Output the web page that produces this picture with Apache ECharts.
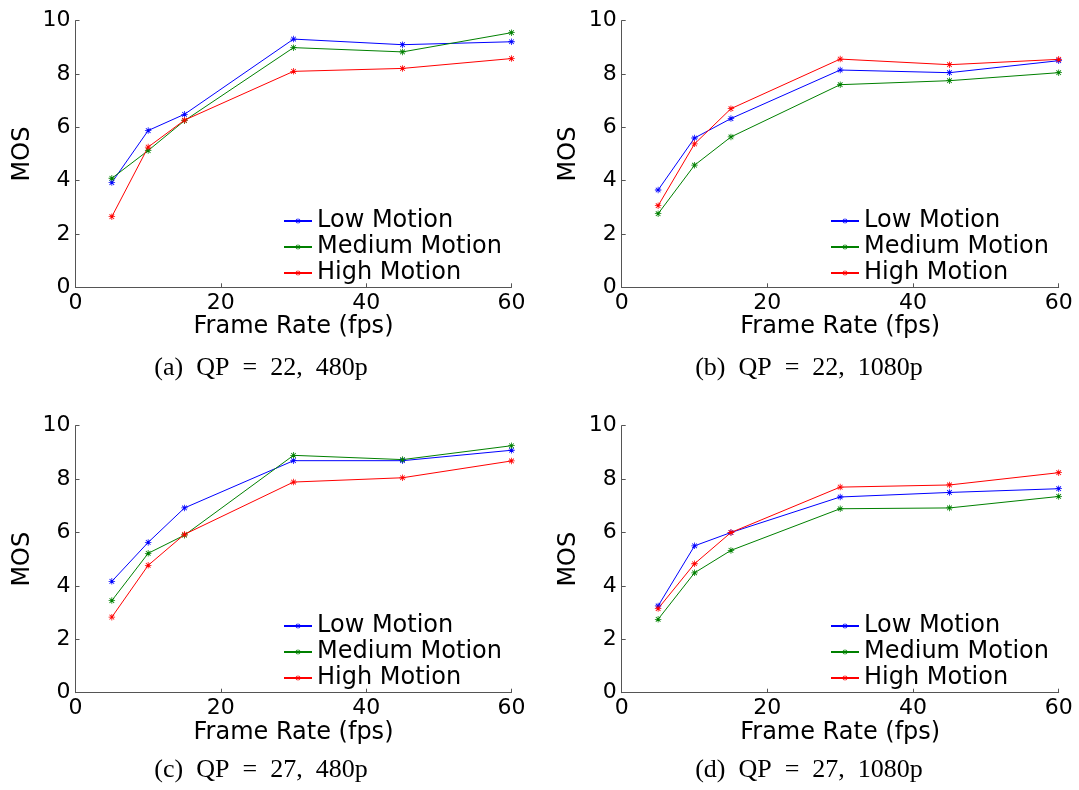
<!DOCTYPE html>
<html>
<head>
<meta charset="utf-8">
<script src="https://cdn.jsdelivr.net/npm/echarts@6/dist/echarts.min.js"></script>
<style>
  html, body { margin: 0; padding: 0; background: #fff; }
  #chart { width: 1079px; height: 790px; }
</style>
</head>
<body>
<div id="chart"></div>
<script>
// ---- data ----
const frameRates = [5, 10, 15, 30, 45, 60];
const seriesNames = ['Low Motion', 'Medium Motion', 'High Motion'];
const captions = ['(a)  QP  =  22,  480p', '(b)  QP  =  22,  1080p', '(c)  QP  =  27,  480p', '(d)  QP  =  27,  1080p'];
const xTicks = [0, 20, 40, 60];
const yTicks = [0, 2, 4, 6, 8, 10];

// (a) QP=22, 480p
const a_low    = [3.93, 5.88, 6.49, 9.31, 9.10, 9.21];
const a_medium = [4.09, 5.13, 6.25, 8.99, 8.83, 9.55];
const a_high   = [2.65, 5.26, 6.27, 8.10, 8.21, 8.58];
// (b) QP=22, 1080p
const b_low    = [3.65, 5.60, 6.33, 8.15, 8.05, 8.50];
const b_medium = [2.76, 4.58, 5.64, 7.60, 7.75, 8.05];
const b_high   = [3.06, 5.38, 6.70, 8.56, 8.35, 8.55];
// (c) QP=27, 480p
const c_low    = [4.17, 5.63, 6.92, 8.69, 8.69, 9.08];
const c_medium = [3.45, 5.22, 5.90, 8.89, 8.73, 9.25];
const c_high   = [2.83, 4.77, 5.93, 7.89, 8.05, 8.68];
// (d) QP=27, 1080p
const d_low    = [3.25, 5.50, 6.00, 7.33, 7.50, 7.64];
const d_medium = [2.75, 4.49, 5.33, 6.89, 6.92, 7.35];
const d_high   = [3.15, 4.83, 6.00, 7.70, 7.78, 8.24];

const panels = [
  [a_low, a_medium, a_high],
  [b_low, b_medium, b_high],
  [c_low, c_medium, c_high],
  [d_low, d_medium, d_high]
];

// ---- styles / layout ----
const colors = ['#0000ff', '#008000', '#ff0000'];
const asterisk = 'path://M4.4,0H5.6V10H4.4Z M0,4.4H10V5.6H0Z M1,1.9L1.9,1L9,8.1L8.1,9Z M8.1,1L9,1.9L1.9,9L1,8.1Z';
const grids = [
  { left: 75.5,  top: 20.7,  width: 436, height: 266.6 },
  { left: 621.7, top: 20.7,  width: 437, height: 266.6 },
  { left: 75.5,  top: 425.7, width: 436, height: 267 },
  { left: 621.7, top: 425.7, width: 437, height: 267 }
];
const legendPos = [
  { left: 283, top: 209 },
  { left: 830, top: 209 },
  { left: 283, top: 614 },
  { left: 830, top: 614 }
];
const captionPos = [[261, 368], [809, 368], [261, 770], [809, 770]];

const sans = 'DejaVu Sans';
const axisColor = '#555';

const option = {
  animation: false,
  backgroundColor: '#fff',
  grid: grids.map(g => Object.assign({ containLabel: false }, g)),
  xAxis: grids.map((g, i) => ({
    type: 'value', gridIndex: i,
    min: xTicks[0], max: xTicks[xTicks.length - 1], interval: 20,
    name: 'Frame Rate (fps)', nameLocation: 'middle', nameGap: 25,
    nameTextStyle: { fontFamily: sans, fontSize: 24, color: '#000' },
    axisLine: { show: true, lineStyle: { color: axisColor, width: 1 } },
    axisTick: { show: true, inside: true, length: 4, lineStyle: { color: axisColor } },
    axisLabel: { fontFamily: sans, fontSize: 22, color: '#000', margin: 5 },
    splitLine: { show: false }
  })),
  yAxis: grids.map((g, i) => ({
    type: 'value', gridIndex: i,
    min: yTicks[0], max: yTicks[yTicks.length - 1], interval: 2,
    name: 'MOS', nameLocation: 'middle', nameGap: 41,
    nameTextStyle: { fontFamily: sans, fontSize: 24, color: '#000' },
    axisLine: { show: true, lineStyle: { color: axisColor, width: 1 } },
    axisTick: { show: true, inside: true, length: 4, lineStyle: { color: axisColor } },
    axisLabel: { fontFamily: sans, fontSize: 22, color: '#000', margin: 5 },
    splitLine: { show: false }
  })),
  legend: legendPos.map(p => ({
    left: p.left, top: p.top, orient: 'vertical', padding: 0,
    itemWidth: 28, itemHeight: 7, itemGap: 2,
    selectedMode: false,
    textStyle: { fontFamily: sans, fontSize: 24, color: '#000', lineHeight: 24 },
    data: seriesNames
  })),
  series: [],
  graphic: captions.map((t, i) => ({
    type: 'text',
    x: captionPos[i][0], y: captionPos[i][1],
    style: {
      text: t, font: '26px "Liberation Serif"', fill: '#000',
      align: 'center', verticalAlign: 'middle'
    }
  }))
};

panels.forEach((panel, gi) => {
  panel.forEach((vals, si) => {
    option.series.push({
      type: 'line', name: seriesNames[si],
      xAxisIndex: gi, yAxisIndex: gi,
      data: frameRates.map((x, k) => [x, vals[k]]),
      symbol: asterisk, symbolSize: 6.5, showSymbol: true,
      lineStyle: { color: colors[si], width: 1 },
      itemStyle: { color: colors[si], borderWidth: 0 },
      emphasis: { disabled: true }
    });
  });
});

const chart = echarts.init(document.getElementById('chart'), null, { renderer: 'canvas' });
chart.setOption(option);
</script>
</body>
</html>
